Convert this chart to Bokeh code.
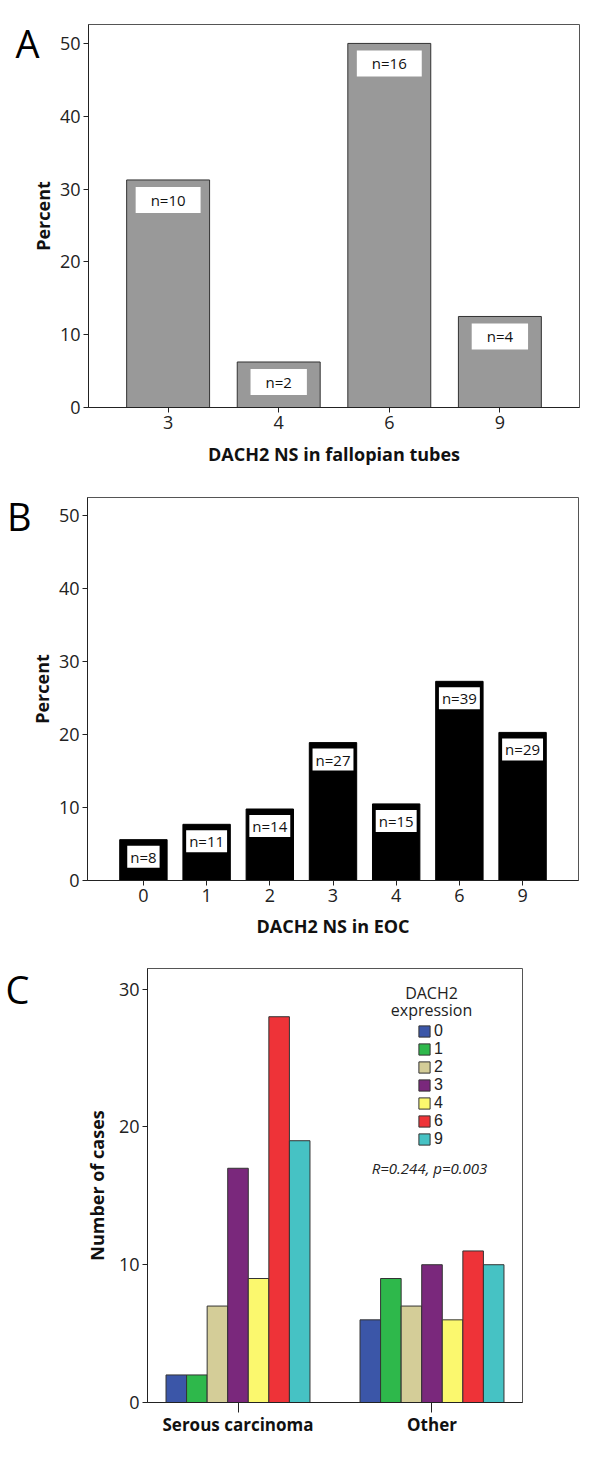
from bokeh.plotting import figure
from bokeh.layouts import column
from bokeh.models import (Label, Legend, LegendItem, FactorRange, Range1d,
                          ColumnDataSource, FixedTicker, LinearAxis)
from bokeh.transform import dodge
from bokeh.core.properties import value
from bokeh.embed import file_html
from bokeh.resources import INLINE

FONT = "Open Sans"

# ---- data ----
a_cats = ["3", "4", "6", "9"]
a_pct = [31.25, 6.25, 50.0, 12.5]
a_labels = ["n=10", "n=2", "n=16", "n=4"]

b_cats = ["0", "1", "2", "3", "4", "6", "9"]
b_pct = [5.6, 7.7, 9.8, 18.9, 10.5, 27.3, 20.3]
b_labels = ["n=8", "n=11", "n=14", "n=27", "n=15", "n=39", "n=29"]

c_groups = ["Serous carcinoma", "Other"]
c_levels = ["0", "1", "2", "3", "4", "6", "9"]
c_serous = [2, 2, 7, 17, 9, 28, 19]
c_other = [6, 9, 7, 10, 6, 11, 10]
c_colors = ["#3b56a8", "#2eb84b", "#d4cd98", "#7a287c", "#fbf86e", "#ee3338", "#46c2c4"]


def style(p, xlabel, ylabel, yticks, tick_out_x=5, label_size="18px",
          ylab_standoff=2, xlab_standoff=10):
    p.xgrid.visible = False
    p.ygrid.visible = False
    p.outline_line_color = "#555555"
    p.outline_line_width = 1
    p.background_fill_color = "white"
    p.border_fill_color = "white"
    for ax in (p.xaxis[0], p.yaxis[0]):
        ax.axis_line_color = "#222222"
        ax.major_tick_line_color = "#222222"
        ax.minor_tick_line_color = None
        ax.major_tick_in = 0
        ax.major_label_text_font = FONT
        ax.major_label_text_color = "#222222"
        ax.axis_label_text_font = FONT
        ax.axis_label_text_font_style = "bold"
        ax.axis_label_text_font_size = label_size
        ax.axis_label_text_color = "#111111"
    p.yaxis[0].ticker = FixedTicker(ticks=yticks)
    p.yaxis[0].major_tick_out = 5
    p.yaxis[0].major_label_standoff = 3
    p.yaxis[0].major_label_text_font_size = "18px"
    p.yaxis[0].axis_label = ylabel
    p.yaxis[0].axis_label_standoff = ylab_standoff
    p.xaxis[0].major_tick_out = tick_out_x
    p.xaxis[0].major_label_standoff = 3
    p.xaxis[0].major_label_text_font_size = "18px"
    p.xaxis[0].axis_label = xlabel
    p.xaxis[0].axis_label_standoff = xlab_standoff


def letter(p, txt, at, standoff):
    ax = LinearAxis(ticker=FixedTicker(ticks=[at]), major_label_overrides={at: txt},
                    axis_line_color=None, major_tick_line_color=None,
                    minor_tick_line_color=None, major_tick_out=0, major_tick_in=0,
                    major_label_standoff=standoff, major_label_text_font=FONT,
                    major_label_text_font_size="38px", major_label_text_color="black")
    p.add_layout(ax, "left")


# ---- panel A ----
srcA = ColumnDataSource(dict(cat=a_cats, pct=a_pct, lab=a_labels))
pA = figure(width=600, height=475, x_range=FactorRange(*a_cats, range_padding=0.11),
            y_range=Range1d(0, 52.6), output_backend="svg", toolbar_location=None,
            min_border_left=88, min_border_right=21, min_border_top=24, min_border_bottom=68,
            frame_align=False)
pA.vbar(x="cat", top="pct", width=0.75, source=srcA, fill_color="#999999",
        line_color="#333333", line_width=1)
pA.text(x="cat", y="pct", text="lab", source=srcA, text_align="center",
        text_baseline="middle", y_offset=20, text_font=value(FONT),
        text_font_size="15px", text_color="#111111",
        background_fill_color="white", padding=(15, 3))
style(pA, "DACH2 NS in fallopian tubes", "Percent", [0, 10, 20, 30, 40, 50])
letter(pA, "A", 50, -12)

# ---- panel B ----
srcB = ColumnDataSource(dict(cat=b_cats, pct=b_pct, lab=b_labels))
pB = figure(width=600, height=465, x_range=FactorRange(*b_cats, range_padding=0.11),
            y_range=Range1d(0, 52.5), output_backend="svg", toolbar_location=None,
            min_border_left=87, min_border_right=22, min_border_top=22, min_border_bottom=59,
            frame_align=False)
pB.vbar(x="cat", top="pct", width=0.75, source=srcB, fill_color="black",
        line_color="black", line_width=1)
pB.text(x="cat", y="pct", text="lab", source=srcB, text_align="center",
        text_baseline="middle", y_offset=17, text_font=value(FONT),
        text_font_size="15px", text_color="#111111",
        background_fill_color="white", padding=(3, 1))
style(pB, "DACH2 NS in EOC", "Percent", [0, 10, 20, 30, 40, 50], xlab_standoff=9)
letter(pB, "B", 50, -5)

# ---- panel C ----
cdata = dict(group=c_groups)
for i, lv in enumerate(c_levels):
    cdata["v" + lv] = [c_serous[i], c_other[i]]
srcC = ColumnDataSource(cdata)
pC = figure(width=600, height=516, x_range=FactorRange(*c_groups, range_padding=-0.0335),
            y_range=Range1d(0, 31.5), output_backend="svg", toolbar_location=None,
            min_border_left=147, min_border_right=78, min_border_top=28, min_border_bottom=54,
            frame_align=False)
w = 0.106
items = []
for i, lv in enumerate(c_levels):
    r = pC.vbar(x=dodge("group", (i - 3) * w, range=pC.x_range), top="v" + lv, width=w,
                source=srcC, fill_color=c_colors[i], line_color="#333333", line_width=1)
    items.append(LegendItem(label=lv, renderers=[r]))
style(pC, "", "Number of cases", [0, 10, 20, 30], tick_out_x=10, label_size="18px",
      ylab_standoff=7)
pC.xaxis[0].axis_label = None
pC.xaxis[0].major_label_standoff = 0
pC.xaxis[0].major_label_text_font_style = "bold"
pC.xaxis[0].major_label_text_font_size = "17px"
pC.xaxis[0].major_label_text_color = "#111111"
leg = Legend(items=items, location=(270, 254), orientation="vertical",
             glyph_width=14, glyph_height=14, label_standoff=3, spacing=0,
             padding=0, margin=0, background_fill_alpha=0, border_line_alpha=0,
             label_text_font="Liberation Sans", label_text_font_size="16px",
             label_height=14, label_text_color="#222222")
pC.add_layout(leg)
for txt, yy in (("DACH2", 410), ("expression", 393)):
    pC.add_layout(Label(x=284, y=yy, x_units="screen", y_units="screen", text=txt,
                        text_font=FONT, text_font_size="16px", text_color="#222222",
                        text_align="center", text_baseline="middle"))
pC.add_layout(Label(x=282, y=235, x_units="screen", y_units="screen",
                    text="R=0.244, p=0.003", text_font=FONT, text_font_size="15px",
                    text_font_style="italic", text_color="#222222",
                    text_align="center", text_baseline="middle"))
letter(pC, "C", 30, 52)

layout = column(pA, pB, pC, spacing=0)
open("out.html", "w").write(file_html(layout, INLINE))
